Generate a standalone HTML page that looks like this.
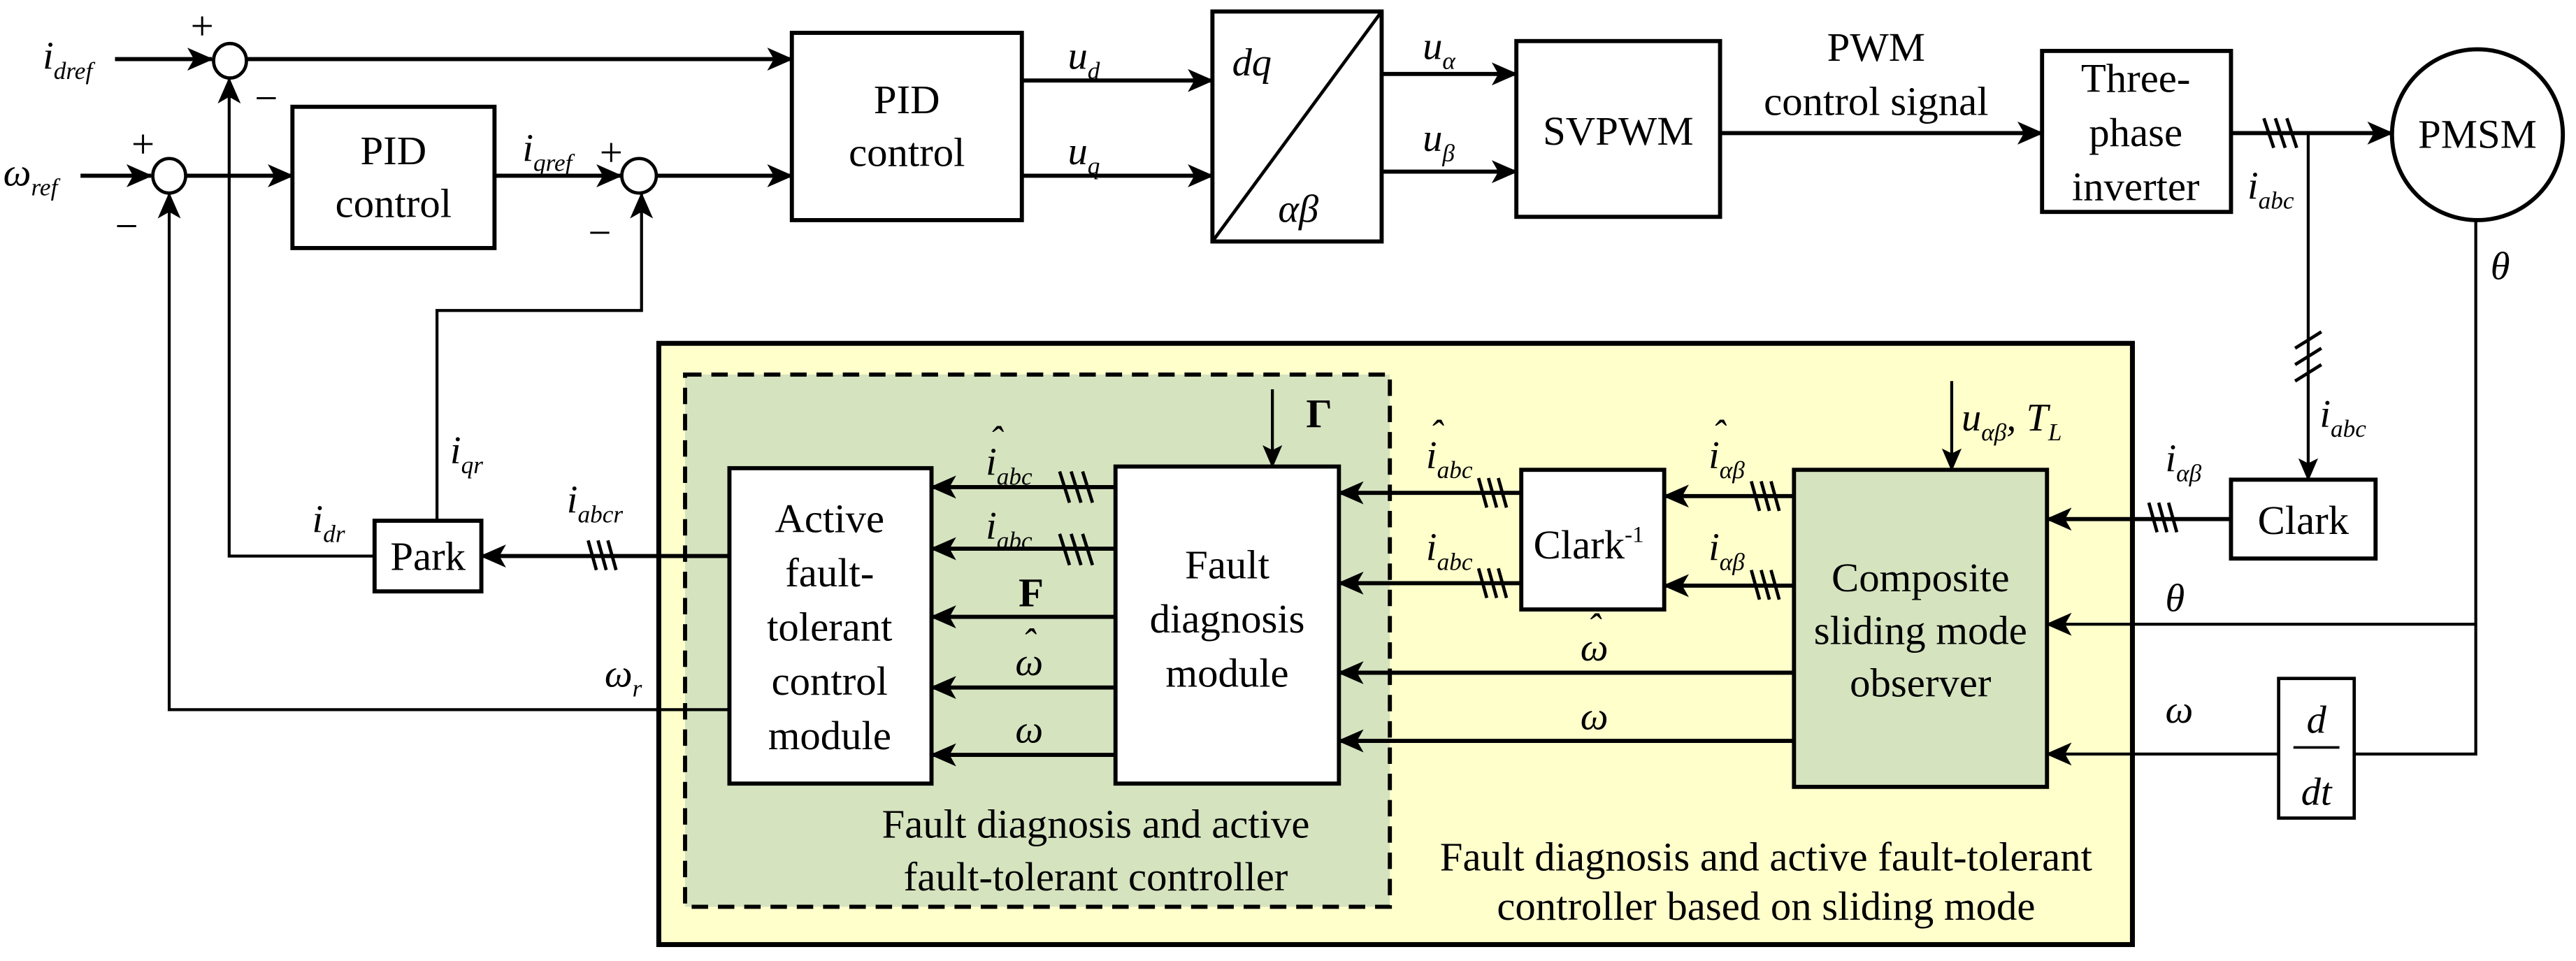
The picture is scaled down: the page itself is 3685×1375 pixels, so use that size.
<!DOCTYPE html>
<html><head><meta charset="utf-8"><style>
html,body{margin:0;padding:0;background:#fff}
svg{display:block}
svg text{font-family:"Liberation Serif","DejaVu Serif",serif;fill:#000}
.b{font-size:25px}
.l{font-size:24px;font-style:italic}
.s{font-size:15px;font-style:italic}
</style></head><body>
<svg width="3685" height="1375" viewBox="0 0 1568 585" preserveAspectRatio="none" xmlns="http://www.w3.org/2000/svg" font-family="Liberation Serif, DejaVu Serif, serif">
<defs>
<marker id="a" markerUnits="userSpaceOnUse" markerWidth="16" markerHeight="14" refX="15" refY="7" orient="auto"><path d="M0,0 L16,7 L0,14 L4,7 Z" fill="#000"/></marker>
<marker id="t" markerUnits="userSpaceOnUse" markerWidth="14" markerHeight="12" refX="13" refY="6" orient="auto"><path d="M0,0 L14,6 L0,12 L3,6 Z" fill="#000"/></marker>
</defs>
<rect x="401" y="209" width="897" height="366" fill="#ffffcc" stroke="#000" stroke-width="3"/>
<rect x="417" y="228" width="429" height="324" fill="#d5e3bf" stroke="#000" stroke-width="2.5" stroke-dasharray="10,6"/>
<g fill="none" stroke="#000">
<line x1="70" y1="36" x2="129" y2="36" stroke-width="2.5" marker-end="url(#a)"/>
<ellipse cx="140" cy="37" rx="10" ry="10.5" stroke-width="2"/>
<line x1="150" y1="36" x2="482" y2="36" stroke-width="2.5" marker-end="url(#a)"/>
<line x1="49" y1="107" x2="92" y2="107" stroke-width="2.5" marker-end="url(#a)"/>
<ellipse cx="103" cy="107" rx="10" ry="10.5" stroke-width="2"/>
<line x1="113" y1="107" x2="178" y2="107" stroke-width="2.5" marker-end="url(#a)"/>
<rect x="178" y="65" width="123" height="86" stroke-width="2.5"/>
<line x1="301" y1="107" x2="378" y2="107" stroke-width="2.5" marker-end="url(#a)"/>
<ellipse cx="389" cy="107" rx="10.5" ry="10.5" stroke-width="2"/>
<line x1="400" y1="107" x2="482" y2="107" stroke-width="2.5" marker-end="url(#a)"/>
<rect x="482" y="20" width="140" height="114" stroke-width="2.5"/>
<line x1="622" y1="49" x2="738" y2="49" stroke-width="2.5" marker-end="url(#a)"/>
<line x1="622" y1="107" x2="738" y2="107" stroke-width="2.5" marker-end="url(#a)"/>
<rect x="738" y="7" width="103" height="140" stroke-width="2.5"/>
<line x1="738" y1="147" x2="841" y2="7" stroke-width="2"/>
<line x1="841" y1="45" x2="923" y2="45" stroke-width="2.5" marker-end="url(#a)"/>
<line x1="841" y1="104.5" x2="923" y2="104.5" stroke-width="2.5" marker-end="url(#a)"/>
<rect x="923" y="25" width="124" height="107" stroke-width="2.5"/>
<line x1="1047" y1="81" x2="1243" y2="81" stroke-width="2.5" marker-end="url(#a)"/>
<rect x="1243" y="31" width="115" height="98" stroke-width="2.5"/>
<line x1="1358" y1="81" x2="1456" y2="81" stroke-width="2.5" marker-end="url(#a)"/>
<path d="M1378,72 l6,18 M1385,72 l6,18 M1392,72 l6,18" stroke-width="2"/>
<ellipse cx="1508" cy="82" rx="52" ry="52" stroke-width="2.5"/>
<line x1="1405" y1="81" x2="1405" y2="292" stroke-width="1.8" marker-end="url(#t)"/>
<path d="M1397,212 l16,-10 M1397,222 l16,-10 M1397,232 l16,-10" stroke-width="2"/>
<rect x="1358" y="292" width="88" height="48" stroke-width="2.5"/>
<line x1="1358" y1="316" x2="1246" y2="316" stroke-width="2.5" marker-end="url(#a)"/>
<path d="M1308,306 l5,18 M1314,306 l5,18 M1320,306 l5,18" stroke-width="2"/>
<polyline points="1507,134 1507,459 1433,459" stroke-width="1.8"/>
<line x1="1507" y1="380" x2="1246" y2="380" stroke-width="1.8" marker-end="url(#a)"/>
<rect x="1387" y="413" width="46" height="85" stroke-width="2"/>
<line x1="1396" y1="455" x2="1424" y2="455" stroke-width="1.5"/>
<line x1="1387" y1="459" x2="1246" y2="459" stroke-width="1.8" marker-end="url(#a)"/>
<line x1="1188" y1="232" x2="1188" y2="286" stroke-width="1.8" marker-end="url(#t)"/>
<rect x="1092" y="286" width="154" height="193" fill="#d5e3bf" stroke-width="2.5"/>
<rect x="926" y="286" width="87" height="85" fill="#fff" stroke-width="2.5"/>
<line x1="1092" y1="302" x2="1013" y2="302" stroke-width="2.5" marker-end="url(#a)"/>
<line x1="1092" y1="356.5" x2="1013" y2="356.5" stroke-width="2.5" marker-end="url(#a)"/>
<path d="M1066,293 l5,18 M1072,293 l5,18 M1078,293 l5,18 M1066,347 l5,18 M1072,347 l5,18 M1078,347 l5,18" stroke-width="2"/>
<line x1="926" y1="300" x2="815" y2="300" stroke-width="2.5" marker-end="url(#a)"/>
<line x1="926" y1="355" x2="815" y2="355" stroke-width="2.5" marker-end="url(#a)"/>
<path d="M900,291 l5,18 M906,291 l5,18 M912,291 l5,18 M900,346 l5,18 M906,346 l5,18 M912,346 l5,18" stroke-width="2"/>
<line x1="1092" y1="409.5" x2="815" y2="409.5" stroke-width="2.5" marker-end="url(#a)"/>
<line x1="1092" y1="451" x2="815" y2="451" stroke-width="2.5" marker-end="url(#a)"/>
<rect x="679" y="284" width="136" height="193" fill="#fff" stroke-width="2.5"/>
<rect x="444" y="285" width="123" height="192" fill="#fff" stroke-width="2.5"/>
<line x1="774.5" y1="237" x2="774.5" y2="284" stroke-width="1.8" marker-end="url(#t)"/>
<line x1="679" y1="296.5" x2="567" y2="296.5" stroke-width="2.5" marker-end="url(#a)"/>
<line x1="679" y1="334" x2="567" y2="334" stroke-width="2.5" marker-end="url(#a)"/>
<line x1="679" y1="375.5" x2="567" y2="375.5" stroke-width="2.5" marker-end="url(#a)"/>
<line x1="679" y1="418.5" x2="567" y2="418.5" stroke-width="2.5" marker-end="url(#a)"/>
<line x1="679" y1="459.5" x2="567" y2="459.5" stroke-width="2.5" marker-end="url(#a)"/>
<path d="M645,287 l6,19 M652,287 l6,19 M659,287 l6,19 M645,325 l6,19 M652,325 l6,19 M659,325 l6,19" stroke-width="2"/>
<line x1="444" y1="338.5" x2="293" y2="338.5" stroke-width="2.5" marker-end="url(#a)"/>
<path d="M358,329 l5,18 M364,329 l5,18 M370,329 l5,18" stroke-width="2"/>
<rect x="228" y="317" width="65" height="43" stroke-width="2.5"/>
<polyline points="228,338.5 139.5,338.5 139.5,48" stroke-width="1.8" marker-end="url(#a)"/>
<polyline points="266,317 266,189 390.5,189 390.5,118" stroke-width="1.8" marker-end="url(#a)"/>
<polyline points="444,432 103,432 103,118" stroke-width="1.8" marker-end="url(#a)"/>
</g>
<text class="l" x="26" y="42">i<tspan class="s" dy="6">dref</tspan></text>
<text class="l" x="2" y="113">ω<tspan class="s" dy="6">ref</tspan></text>
<text class="b" x="116" y="24" font-size="20">+</text>
<text class="b" x="155" y="68" font-size="22">−</text>
<text class="b" x="80" y="96" font-size="20">+</text>
<text class="b" x="70" y="146" font-size="22">−</text>
<text class="b" x="365" y="101" font-size="20">+</text>
<text class="b" x="358" y="150" font-size="22">−</text>
<text class="b" x="239.5" y="100" text-anchor="middle">PID</text>
<text class="b" x="239.5" y="132" text-anchor="middle">control</text>
<text class="l" x="318" y="98">i<tspan class="s" dy="6">qref</tspan></text>
<text class="b" x="552" y="69" text-anchor="middle">PID</text>
<text class="b" x="552" y="101" text-anchor="middle">control</text>
<text class="l" x="650" y="42">u<tspan class="s" dy="6">d</tspan></text>
<text class="l" x="650" y="100">u<tspan class="s" dy="6">q</tspan></text>
<text class="l" x="750" y="46" font-size="30">dq</text>
<text class="l" x="778" y="135" font-size="30">αβ</text>
<text class="l" x="866" y="36">u<tspan class="s" dy="6">α</tspan></text>
<text class="l" x="866" y="92">u<tspan class="s" dy="6">β</tspan></text>
<text class="b" x="985" y="88" text-anchor="middle">SVPWM</text>
<text class="b" x="1142" y="37" text-anchor="middle">PWM</text>
<text class="b" x="1142" y="70" text-anchor="middle">control signal</text>
<text class="b" x="1300" y="56" text-anchor="middle">Three-</text>
<text class="b" x="1300" y="89" text-anchor="middle">phase</text>
<text class="b" x="1300" y="122" text-anchor="middle">inverter</text>
<text class="b" x="1508" y="90" text-anchor="middle">PMSM</text>
<text class="l" x="1368" y="121">i<tspan class="s" dy="6">abc</tspan></text>
<text class="l" x="1516" y="170">θ</text>
<text class="l" x="1412" y="260">i<tspan class="s" dy="6">abc</tspan></text>
<text class="l" x="1318" y="287">i<tspan class="s" dy="6">αβ</tspan></text>
<text class="b" x="1402" y="325" text-anchor="middle">Clark</text>
<text class="b" x="260.5" y="347" text-anchor="middle">Park</text>
<text class="l" x="1194" y="262" font-size="26">u<tspan class="s" dy="6">αβ</tspan><tspan dy="-6">, T</tspan><tspan class="s" dy="6">L</tspan></text>
<text class="l" x="1318" y="372">θ</text>
<text class="l" x="1318" y="440">ω</text>
<text class="l" x="1410" y="446" text-anchor="middle">d</text>
<text class="l" x="1410" y="490" text-anchor="middle">dt</text>
<text class="b" x="1169" y="360" text-anchor="middle">Composite</text>
<text class="b" x="1169" y="392" text-anchor="middle">sliding mode</text>
<text class="b" x="1169" y="424" text-anchor="middle">observer</text>
<text class="b" x="967" y="340" text-anchor="middle">Clark<tspan font-size="14" dy="-10">-1</tspan></text>
<text class="l" x="1040" y="285">i<tspan class="s" dy="6">αβ</tspan></text><text class="l" x="1042" y="272" font-size="16">ˆ</text>
<text class="l" x="1040" y="341">i<tspan class="s" dy="6">αβ</tspan></text>
<text class="l" x="868" y="285">i<tspan class="s" dy="6">abc</tspan></text><text class="l" x="870" y="272" font-size="16">ˆ</text>
<text class="l" x="868" y="341">i<tspan class="s" dy="6">abc</tspan></text>
<text class="l" x="962" y="402">ω</text><text class="l" x="966" y="390" font-size="16">ˆ</text>
<text class="l" x="962" y="444">ω</text>
<text class="b" x="795" y="260" font-weight="bold">Γ</text>
<text class="b" x="747" y="352" text-anchor="middle">Fault</text>
<text class="b" x="747" y="385" text-anchor="middle">diagnosis</text>
<text class="b" x="747" y="418" text-anchor="middle">module</text>
<text class="b" x="505" y="324" text-anchor="middle">Active</text>
<text class="b" x="505" y="357" text-anchor="middle">fault-</text>
<text class="b" x="505" y="390" text-anchor="middle">tolerant</text>
<text class="b" x="505" y="423" text-anchor="middle">control</text>
<text class="b" x="505" y="456" text-anchor="middle">module</text>
<text class="l" x="600" y="289">i<tspan class="s" dy="6">abc</tspan></text><text class="l" x="602" y="276" font-size="16">ˆ</text>
<text class="l" x="600" y="328">i<tspan class="s" dy="6">abc</tspan></text>
<text class="b" x="620" y="369" font-weight="bold">F</text>
<text class="l" x="618" y="411">ω</text><text class="l" x="622" y="399" font-size="16">ˆ</text>
<text class="l" x="618" y="452">ω</text>
<text class="b" x="667" y="510" text-anchor="middle">Fault diagnosis and active</text>
<text class="b" x="667" y="542" text-anchor="middle">fault-tolerant controller</text>
<text class="b" x="1075" y="530" text-anchor="middle">Fault diagnosis and active fault-tolerant</text>
<text class="b" x="1075" y="560" text-anchor="middle">controller based on sliding mode</text>
<text class="l" x="190" y="324">i<tspan class="s" dy="6">dr</tspan></text>
<text class="l" x="274" y="282">i<tspan class="s" dy="6">qr</tspan></text>
<text class="l" x="345" y="312">i<tspan class="s" dy="6">abcr</tspan></text>
<text class="l" x="368" y="418">ω<tspan class="s" dy="6">r</tspan></text>
</svg>
</body></html>
